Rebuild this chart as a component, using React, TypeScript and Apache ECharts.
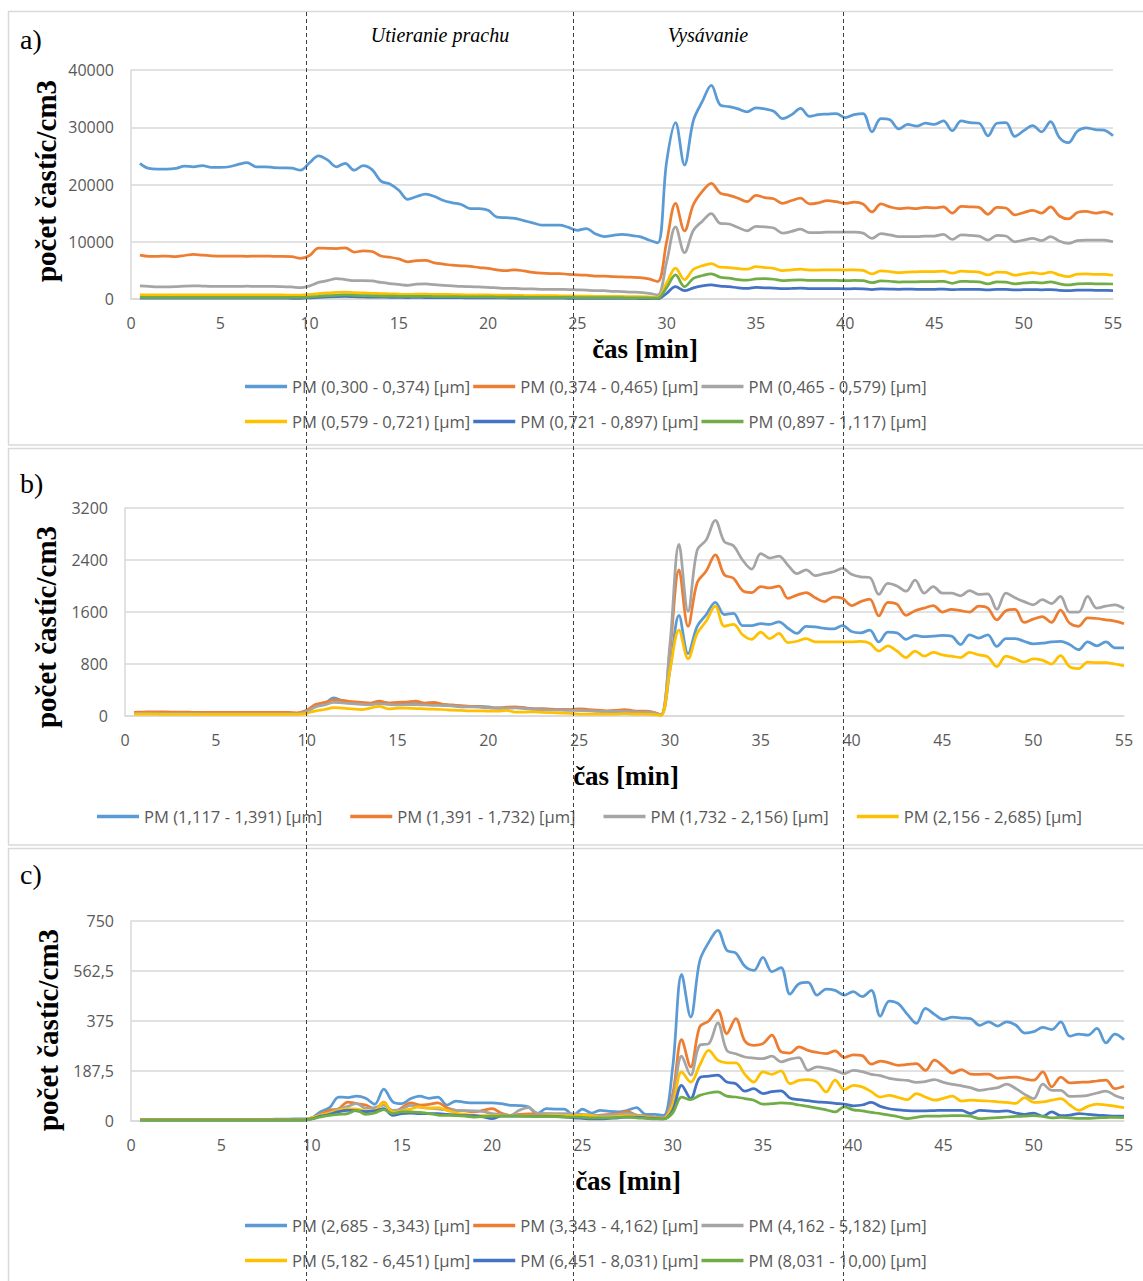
import React, { useEffect, useRef } from "react";
import * as echarts from "echarts";

const T = [
  0.5, 1, 1.5, 2, 2.5, 3, 3.5, 4, 4.5, 5,
  5.5, 6, 6.5, 7, 7.5, 8, 8.5, 9, 9.5, 10,
  10.5, 11, 11.5, 12, 12.5, 13, 13.5, 14, 14.5, 15,
  15.5, 16, 16.5, 17, 17.5, 18, 18.5, 19, 19.5, 20,
  20.5, 21, 21.5, 22, 22.5, 23, 23.5, 24, 24.5, 25,
  25.5, 26, 26.5, 27, 27.5, 28, 28.5, 29, 29.5, 30,
  30.5, 31, 31.5, 32, 32.5, 33, 33.5, 34, 34.5, 35,
  35.5, 36, 36.5, 37, 37.5, 38, 38.5, 39, 39.5, 40,
  40.5, 41, 41.5, 42, 42.5, 43, 43.5, 44, 44.5, 45,
  45.5, 46, 46.5, 47, 47.5, 48, 48.5, 49, 49.5, 50,
  50.5, 51, 51.5, 52, 52.5, 53, 53.5, 54, 54.5, 55,
];

const X_TICKS = [0, 55, 5];

// ---- panel a ----
const NAMES_A = [
  "PM (0,300 - 0,374) [µm]",
  "PM (0,374 - 0,465) [µm]",
  "PM (0,465 - 0,579) [µm]",
  "PM (0,579 - 0,721) [µm]",
  "PM (0,721 - 0,897) [µm]",
  "PM (0,897 - 1,117) [µm]",
];
const A1 = [
  23700, 22800, 22700, 22700, 22800, 23200, 23100, 23300, 23000, 23000,
  23100, 23500, 23800, 23100, 23100, 22950, 22900, 22850, 22500, 23800,
  25000, 24300, 23100, 23700, 22500, 23300, 22600, 20600, 20100, 19000,
  17400, 17900, 18300, 17900, 17200, 16800, 16500, 15800, 15800, 15500,
  14300, 14200, 14100, 13700, 13300, 12900, 12900, 12900, 12500, 12000,
  12300, 11400, 10900, 11100, 11300, 11100, 10900, 10300, 9800, 24000,
  30800, 23400, 31200, 34500, 37300, 33900, 33600, 33200, 32700, 33400,
  33200, 32800, 31500, 32200, 33300, 31900, 32200, 32300, 32400, 31700,
  32200, 32400, 29200, 31500, 31300, 29700, 30500, 30200, 30700, 30500,
  31100, 29400, 31100, 30800, 30700, 28500, 30700, 30800, 28400, 29400,
  30300, 29200, 31000, 28200, 27300, 29300, 29900, 29600, 29500, 28500,
];
const A2 = [
  7650, 7450, 7450, 7500, 7400, 7600, 7800, 7650, 7550, 7500,
  7500, 7500, 7450, 7500, 7500, 7450, 7450, 7400, 7100, 7600,
  8900, 8850, 8800, 8950, 8200, 8400, 8300, 7500, 7300, 7000,
  6500, 6700, 6750, 6300, 6100, 5900, 5800, 5700, 5500, 5350,
  5100, 4950, 5100, 4900, 4650, 4500, 4450, 4450, 4300, 4200,
  4150, 4000, 4000, 3900, 3850, 3800, 3750, 3500, 3050, 10000,
  16700, 11900, 16500, 18800, 20200, 18500, 18100, 17600, 17000, 18100,
  17700, 17500, 16700, 17200, 17600, 16600, 16800, 17200, 17000, 16700,
  16900, 16600, 15200, 16600, 16100, 15800, 15900, 15800, 16000, 15900,
  16100, 15000, 16200, 16100, 16000, 14800, 16000, 15900, 14700, 15100,
  15500, 15000, 16100, 14500, 14000, 15100, 15300, 15000, 15200, 14700,
];
const A3 = [
  2300, 2200, 2100, 2100, 2150, 2250, 2300, 2250, 2200, 2200,
  2200, 2200, 2250, 2200, 2200, 2200, 2150, 2100, 1970, 2300,
  2900, 3200, 3550, 3400, 3200, 3200, 3150, 2900, 2700, 2550,
  2400, 2600, 2650, 2500, 2400, 2300, 2200, 2150, 2100, 2050,
  1950, 1850, 1850, 1750, 1750, 1700, 1700, 1680, 1650, 1600,
  1550, 1460, 1450, 1350, 1300, 1200, 1150, 1000, 700, 6500,
  12600, 8100, 12000, 13600, 14900, 13200, 13100, 12500, 11900, 12700,
  12600, 12400, 11500, 11800, 12200, 11600, 11600, 11700, 11700, 11700,
  11700, 11500, 10600, 11400, 11200, 10900, 10900, 10900, 11000, 11000,
  11300, 10400, 11200, 11100, 11000, 10300, 11100, 11000, 10000, 10300,
  10600, 10200, 10900, 10100, 9700, 10200, 10300, 10300, 10300, 10000,
];
const A4 = [
  700, 720, 710, 700, 730, 740, 720, 720, 710, 700,
  720, 730, 720, 720, 710, 700, 700, 690, 680, 800,
  950, 1050, 1150, 1200, 1100, 1050, 1000, 950, 900, 850,
  800, 850, 850, 800, 800, 780, 750, 720, 700, 700,
  680, 660, 650, 620, 600, 580, 580, 560, 550, 520,
  500, 480, 470, 450, 440, 430, 420, 380, 300, 2800,
  5400, 3400, 5200, 5800, 6200, 5550, 5500, 5300, 5200, 5650,
  5500, 5350, 4950, 5100, 5200, 5050, 5050, 5100, 5100, 5050,
  5100, 5000, 4400, 4900, 4800, 4600, 4700, 4750, 4800, 4800,
  4850, 4500, 4850, 4800, 4700, 4200, 4700, 4650, 4150, 4400,
  4600, 4400, 4700, 4200, 3900, 4350, 4400, 4300, 4300, 4150,
];
const A5 = [
  150, 140, 140, 150, 150, 150, 140, 140, 150, 150,
  150, 150, 140, 140, 140, 140, 140, 130, 130, 200,
  300, 380, 430, 450, 400, 360, 340, 320, 300, 280,
  260, 270, 260, 250, 240, 230, 220, 210, 200, 190,
  180, 175, 170, 160, 150, 145, 140, 135, 130, 120,
  115, 110, 105, 100, 95, 90, 85, 75, 50, 1000,
  2150, 1450, 1950, 2300, 2450, 2250, 2150, 1950, 1850, 2050,
  1950, 1900, 1800, 1850, 1900, 1820, 1800, 1820, 1800, 1780,
  1800, 1780, 1650, 1760, 1740, 1700, 1710, 1700, 1700, 1690,
  1720, 1620, 1700, 1700, 1680, 1600, 1690, 1680, 1580, 1620,
  1650, 1600, 1650, 1520, 1460, 1530, 1550, 1520, 1500, 1460,
];
const A6 = [
  300, 290, 290, 300, 300, 300, 300, 290, 290, 300,
  300, 300, 300, 290, 290, 290, 290, 280, 280, 350,
  480, 580, 650, 700, 620, 580, 560, 520, 500, 470,
  440, 460, 450, 430, 420, 410, 390, 380, 370, 360,
  340, 330, 330, 310, 300, 290, 290, 280, 270, 260,
  250, 240, 240, 230, 220, 210, 200, 180, 150, 2000,
  4200, 2150, 3600, 4100, 4400, 3800, 3650, 3400, 3300, 3500,
  3550, 3450, 3200, 3300, 3350, 3250, 3250, 3250, 3250, 3200,
  3250, 3200, 2850, 3150, 3100, 2950, 3000, 3000, 3050, 3050,
  3100, 2750, 3100, 3050, 3000, 2650, 3000, 2950, 2650, 2800,
  2900, 2800, 3000, 2650, 2450, 2650, 2700, 2650, 2650, 2620,
];
const Y_TICKS_A = [0, 40000, 10000];

// ---- panel b ----
const NAMES_B = [
  "PM (1,117 - 1,391) [µm]",
  "PM (1,391 - 1,732) [µm]",
  "PM (1,732 - 2,156) [µm]",
  "PM (2,156 - 2,685) [µm]",
];
const B1 = [
  50, 50, 55, 50, 50, 45, 45, 45, 45, 40,
  40, 40, 40, 40, 40, 40, 40, 40, 40, 80,
  160, 190, 280, 230, 210, 200, 190, 210, 200, 180,
  185, 190, 190, 180, 175, 160, 140, 145, 150, 140,
  120, 125, 130, 125, 110, 110, 100, 100, 95, 90,
  85, 75, 70, 65, 70, 65, 60, 55, 20, 700,
  1550, 960, 1380, 1560, 1750, 1560, 1580, 1390, 1390, 1420,
  1410, 1450, 1350, 1270, 1380, 1370, 1350, 1340, 1390, 1300,
  1280, 1320, 1140, 1290, 1280, 1180, 1240, 1220, 1230, 1240,
  1230, 1100, 1250, 1200, 1250, 1070, 1190, 1190, 1150, 1110,
  1120, 1140, 1150, 1100, 1020, 1140, 1080, 1140, 1050, 1050,
];
const B2 = [
  55, 60, 65, 65, 60, 60, 60, 55, 55, 55,
  55, 55, 55, 55, 55, 55, 55, 55, 50, 90,
  180, 210, 250, 240, 220, 210, 200, 230, 200, 210,
  215, 230, 200, 210, 180, 170, 160, 150, 145, 130,
  125, 135, 140, 125, 110, 110, 105, 100, 100, 110,
  100, 90, 80, 85, 100, 80, 75, 65, 20, 1000,
  2250, 1380, 2050, 2230, 2480, 2170, 2120, 1930, 1900, 1990,
  1970, 2000, 1810, 1860, 1900, 1820, 1760, 1830, 1810, 1700,
  1760, 1800, 1540, 1750, 1720, 1550, 1620, 1660, 1700, 1600,
  1640, 1620, 1600, 1690, 1660, 1480, 1620, 1640, 1440, 1490,
  1530, 1440, 1630, 1430, 1380, 1510, 1500, 1480, 1460, 1420,
];
const B3 = [
  40, 40, 45, 40, 40, 40, 40, 40, 35, 35,
  35, 35, 35, 35, 35, 35, 35, 35, 35, 70,
  140, 170, 210, 200, 190, 180, 175, 190, 180, 170,
  175, 175, 170, 165, 160, 155, 145, 140, 135, 125,
  120, 120, 125, 115, 100, 95, 90, 90, 85, 85,
  80, 75, 70, 70, 75, 65, 60, 55, 15, 1100,
  2640, 1610, 2550, 2710, 3010, 2680, 2620, 2400, 2260, 2500,
  2430, 2460, 2320, 2190, 2250, 2160, 2190, 2220, 2270, 2180,
  2140, 2130, 1870, 2040, 2000, 1920, 2090, 1890, 1990, 1890,
  1890, 1850, 1930, 1870, 1880, 1640, 1890, 1820, 1760, 1710,
  1790, 1730, 1840, 1600, 1600, 1840, 1660, 1690, 1710, 1650,
];
const B4 = [
  30, 30, 30, 25, 25, 25, 25, 25, 25, 25,
  25, 25, 25, 25, 25, 25, 25, 25, 25, 40,
  80, 100, 130, 120, 110, 100, 120, 150, 110, 120,
  120, 115, 110, 105, 100, 90, 85, 80, 80, 75,
  75, 85, 60, 60, 65, 55, 50, 45, 40, 30,
  30, 30, 30, 30, 35, 30, 30, 25, 10, 700,
  1320, 880, 1270, 1460, 1690, 1380, 1410, 1250, 1180, 1290,
  1190, 1270, 1130, 1150, 1190, 1140, 1140, 1140, 1140, 1140,
  1150, 1120, 1000, 1080, 1000, 900, 1000, 920, 980, 940,
  920, 900, 980, 940, 910, 760, 920, 880, 830, 880,
  860, 800, 930, 760, 730, 830, 820, 820, 800, 770,
];
const Y_TICKS_B = [0, 3200, 800];

// ---- panel c ----
const NAMES_C = [
  "PM (2,685 - 3,343) [µm]",
  "PM (3,343 - 4,162) [µm]",
  "PM (4,162 - 5,182) [µm]",
  "PM (5,182 - 6,451) [µm]",
  "PM (6,451 - 8,031) [µm]",
  "PM (8,031 - 10,00) [µm]",
];
const C1 = [
  5, 5, 5, 5, 5, 5, 5, 5, 5, 5,
  5, 5, 5, 6, 6, 7, 7, 8, 8, 12,
  35, 50, 90, 88, 93, 85, 63, 120, 72, 65,
  84, 93, 85, 90, 60, 75, 70, 68, 68, 68,
  65, 59, 58, 53, 28, 46, 45, 45, 21, 45,
  30, 40, 36, 34, 40, 50, 25, 25, 21, 200,
  550, 390, 600, 670, 715, 640, 630, 580, 565, 614,
  560, 575, 476, 515, 520, 472, 495, 490, 472, 485,
  466, 490, 393, 450, 440, 400, 366, 422, 400, 381,
  390, 386, 384, 359, 372, 356, 372, 360, 330, 335,
  351, 343, 372, 318, 326, 322, 347, 293, 326, 305,
];
const C2 = [
  5, 5, 5, 5, 5, 5, 5, 5, 5, 5,
  5, 5, 5, 5, 5, 5, 5, 5, 5, 10,
  25, 40, 46, 71, 65, 60, 45, 71, 28, 50,
  68, 60, 62, 68, 50, 40, 38, 34, 40, 46,
  30, 21, 25, 27, 27, 27, 25, 24, 22, 21,
  20, 22, 25, 28, 35, 22, 18, 15, 12, 100,
  305, 203, 353, 375, 416, 328, 384, 300, 284, 290,
  322, 260, 255, 278, 265, 257, 253, 263, 238, 248,
  245, 213, 225, 218, 209, 212, 215, 190, 228, 205,
  180, 193, 176, 175, 176, 160, 163, 165, 158, 153,
  184, 128, 165, 143, 145, 146, 150, 153, 121, 130,
];
const C3 = [
  4, 4, 4, 4, 4, 4, 4, 4, 4, 4,
  4, 4, 4, 4, 4, 4, 4, 4, 4, 8,
  20, 32, 45, 55, 65, 48, 50, 60, 40, 45,
  59, 52, 48, 45, 42, 40, 39, 38, 35, 28,
  25, 21, 40, 50, 30, 28, 28, 28, 27, 25,
  22, 20, 22, 25, 28, 22, 16, 14, 10, 80,
  243, 172, 284, 290, 368, 265, 252, 240, 236, 234,
  243, 222, 232, 238, 190, 203, 198, 190, 178, 190,
  185, 175, 170, 160, 155, 152, 145, 148, 155, 145,
  137, 132, 125, 115, 120, 125, 138, 122, 100, 84,
  138, 115, 115, 92, 93, 96, 105, 112, 96, 84,
];
const C4 = [
  4, 4, 4, 4, 4, 4, 4, 4, 4, 4,
  4, 4, 4, 4, 4, 4, 4, 4, 4, 12,
  22, 30, 40, 46, 45, 38, 40, 69, 33, 38,
  45, 53, 48, 50, 40, 30, 25, 21, 20, 21,
  21, 20, 20, 20, 20, 22, 22, 20, 20, 22,
  20, 15, 15, 18, 20, 18, 15, 12, 10, 60,
  184, 146, 209, 265, 228, 218, 218, 175, 146, 184,
  175, 188, 140, 152, 155, 146, 109, 153, 118, 134,
  128, 110, 90, 96, 88, 80, 103, 90, 78, 85,
  93, 75, 78, 76, 75, 72, 70, 66, 88, 70,
  72, 78, 84, 60, 40, 55, 63, 60, 56, 50,
];
const C5 = [
  3, 3, 3, 3, 3, 3, 3, 3, 3, 3,
  3, 3, 3, 3, 3, 3, 3, 3, 3, 8,
  18, 25, 35, 40, 38, 35, 38, 46, 21, 28,
  30, 28, 28, 28, 25, 22, 20, 20, 15, 9,
  18, 18, 18, 18, 18, 18, 17, 15, 12, 10,
  8, 8, 10, 12, 15, 15, 12, 10, 8, 40,
  134, 84, 162, 168, 172, 146, 140, 112, 121, 103,
  110, 113, 86, 80, 76, 72, 70, 66, 63, 57,
  60, 70, 55, 46, 42, 39, 38, 38, 39, 40,
  40, 40, 28, 40, 38, 36, 38, 30, 25, 30,
  18, 34, 20, 22, 28, 25, 22, 20, 18, 18,
];
const C6 = [
  3, 3, 3, 3, 3, 3, 3, 3, 3, 3,
  3, 3, 3, 3, 3, 3, 3, 3, 3, 8,
  15, 21, 25, 28, 40, 25, 30, 43, 28, 34,
  34, 32, 28, 22, 21, 20, 18, 15, 16, 18,
  18, 18, 18, 17, 16, 16, 16, 15, 15, 14,
  12, 12, 12, 14, 15, 12, 10, 8, 8, 30,
  90, 80, 96, 105, 109, 93, 90, 84, 78, 63,
  65, 68, 66, 60, 55, 48, 42, 34, 53, 42,
  38, 32, 28, 22, 16, 9, 14, 18, 18, 19,
  20, 20, 18, 9, 11, 13, 15, 17, 18, 20,
  17, 12, 14, 12, 10, 10, 12, 13, 14, 13,
];
const Y_TICKS_C = [0, 750, 187.5];

const COLORS = ["#5B9BD5", "#ED7D31", "#A5A5A5", "#FFC000", "#4472C4", "#70AD47"];
const PHASE_LINES_PX = [306.5, 573.5, 843.5];

const SANS = "'Open Sans', sans-serif";
const SERIF = "'Liberation Serif', 'Times New Roman', serif";
const GRID_COLOR = "#d9d9d9";
const LABEL_COLOR = "#595959";

function buildOption() {
  const grids = [
    { left: 131, top: 70, width: 982, height: 229 },
    { left: 125, top: 508, width: 999, height: 208 },
    { left: 131, top: 921, width: 993, height: 200 },
  ];
  const yTicks = [Y_TICKS_A, Y_TICKS_B, Y_TICKS_C];

  const xAxis = grids.map((_, i) => ({
    type: "value",
    gridIndex: i,
    min: X_TICKS[0],
    max: X_TICKS[1],
    interval: X_TICKS[2],
    axisLine: { show: true, lineStyle: { color: GRID_COLOR, width: 1.5 } },
    axisTick: { show: false },
    splitLine: { show: false },
    axisLabel: { color: LABEL_COLOR, fontSize: 16, fontFamily: SANS, margin: 16 },
  }));
  const yAxis = grids.map((_, i) => ({
    type: "value",
    gridIndex: i,
    min: yTicks[i][0],
    max: yTicks[i][1],
    interval: yTicks[i][2],
    axisLine: { show: true, lineStyle: { color: GRID_COLOR, width: 1.5 } },
    axisTick: { show: false },
    splitLine: { show: true, lineStyle: { color: GRID_COLOR, width: 1.5 } },
    axisLabel: {
      color: LABEL_COLOR,
      fontSize: 16,
      fontFamily: SANS,
      margin: 17,
      formatter: (v: number) => String(v).replace(".", ","),
    },
  }));

  const panels: { names: string[]; data: number[][] }[] = [
    { names: NAMES_A, data: [A1, A2, A3, A4, A5, A6] },
    { names: NAMES_B, data: [B1, B2, B3, B4] },
    { names: NAMES_C, data: [C1, C2, C3, C4, C5, C6] },
  ];
  const series: any[] = [];
  panels.forEach((p, gi) => {
    p.data.forEach((arr, si) => {
      series.push({
        type: "line",
        name: p.names[si],
        xAxisIndex: gi,
        yAxisIndex: gi,
        data: T.map((t, k) => [t, arr[k]]),
        smooth: 0.35,
        symbol: "none",
        lineStyle: { width: 2.75, color: COLORS[si] },
        itemStyle: { color: COLORS[si] },
      });
    });
  });

  const legendBase = {
    orient: "horizontal",
    icon: "rect",
    itemWidth: 42,
    itemHeight: 3.5,
    itemGap: 3,
    selectedMode: false,
    padding: 0,
    textStyle: { color: LABEL_COLOR, fontSize: 16.6, fontFamily: SANS },
  };
  const legend = [
    { ...legendBase, left: 245, top: 378, data: NAMES_A.slice(0, 3) },
    { ...legendBase, left: 245, top: 413, data: NAMES_A.slice(3, 6) },
    { ...legendBase, left: 97, top: 808, itemGap: 28, data: NAMES_B },
    { ...legendBase, left: 245, top: 1217, data: NAMES_C.slice(0, 3) },
    { ...legendBase, left: 245, top: 1252, data: NAMES_C.slice(3, 6) },
  ];

  const txt = (text: string, x: number, y: number, o: any = {}, rotation = 0) => ({
    type: "text",
    x,
    y,
    rotation,
    z: 50,
    style: {
      text,
      fill: "#000",
      fontFamily: SERIF,
      fontSize: 28,
      align: "center",
      verticalAlign: "middle",
      ...o,
    },
  });

  const graphic: any[] = [
    { type: "rect", z: 0, shape: { x: 8.5, y: 11.5, width: 1150, height: 433.5 }, style: { fill: "none", stroke: GRID_COLOR, lineWidth: 1.5 } },
    { type: "rect", z: 0, shape: { x: 8.5, y: 448.5, width: 1150, height: 396.5 }, style: { fill: "none", stroke: GRID_COLOR, lineWidth: 1.5 } },
    { type: "rect", z: 0, shape: { x: 8.5, y: 848.5, width: 1150, height: 450 }, style: { fill: "none", stroke: GRID_COLOR, lineWidth: 1.5 } },
    txt("a)", 20, 39, { align: "left" }),
    txt("b)", 20, 483, { align: "left" }),
    txt("c)", 20, 874, { align: "left" }),
    txt("Utieranie prachu", 440, 35, { fontSize: 20, fontStyle: "italic" }),
    txt("Vysávanie", 708, 35, { fontSize: 20, fontStyle: "italic" }),
    txt("počet častíc/cm3", 46, 181, { fontWeight: "bold", fontSize: 29 }, Math.PI / 2),
    txt("počet častíc/cm3", 46, 627, { fontWeight: "bold", fontSize: 29 }, Math.PI / 2),
    txt("počet častíc/cm3", 48, 1030, { fontWeight: "bold", fontSize: 29 }, Math.PI / 2),
    txt("čas [min]", 645, 349, { fontWeight: "bold", fontSize: 27 }),
    txt("čas [min]", 626, 776, { fontWeight: "bold", fontSize: 27 }),
    txt("čas [min]", 628, 1181, { fontWeight: "bold", fontSize: 27 }),
    ...PHASE_LINES_PX.map((x) => ({
      type: "line",
      z: 100,
      shape: { x1: x, y1: 12, x2: x, y2: 1281 },
      style: { stroke: "#404040", lineWidth: 1, lineDash: [4, 3] },
    })),
  ];

  return {
    animation: false,
    backgroundColor: "#ffffff",
    grid: grids,
    xAxis,
    yAxis,
    legend,
    series,
    graphic,
  };
}

export default function App() {
  const ref = useRef<HTMLDivElement>(null);
  useEffect(() => {
    if (!ref.current) return;
    const chart = echarts.init(ref.current, null, { renderer: "svg" });
    chart.setOption(buildOption() as any);
    return () => chart.dispose();
  }, []);
  return (
    <div
      ref={ref}
      style={{ position: "absolute", left: 0, top: 0, width: 1143, height: 1281, background: "#fff" }}
    />
  );
}
